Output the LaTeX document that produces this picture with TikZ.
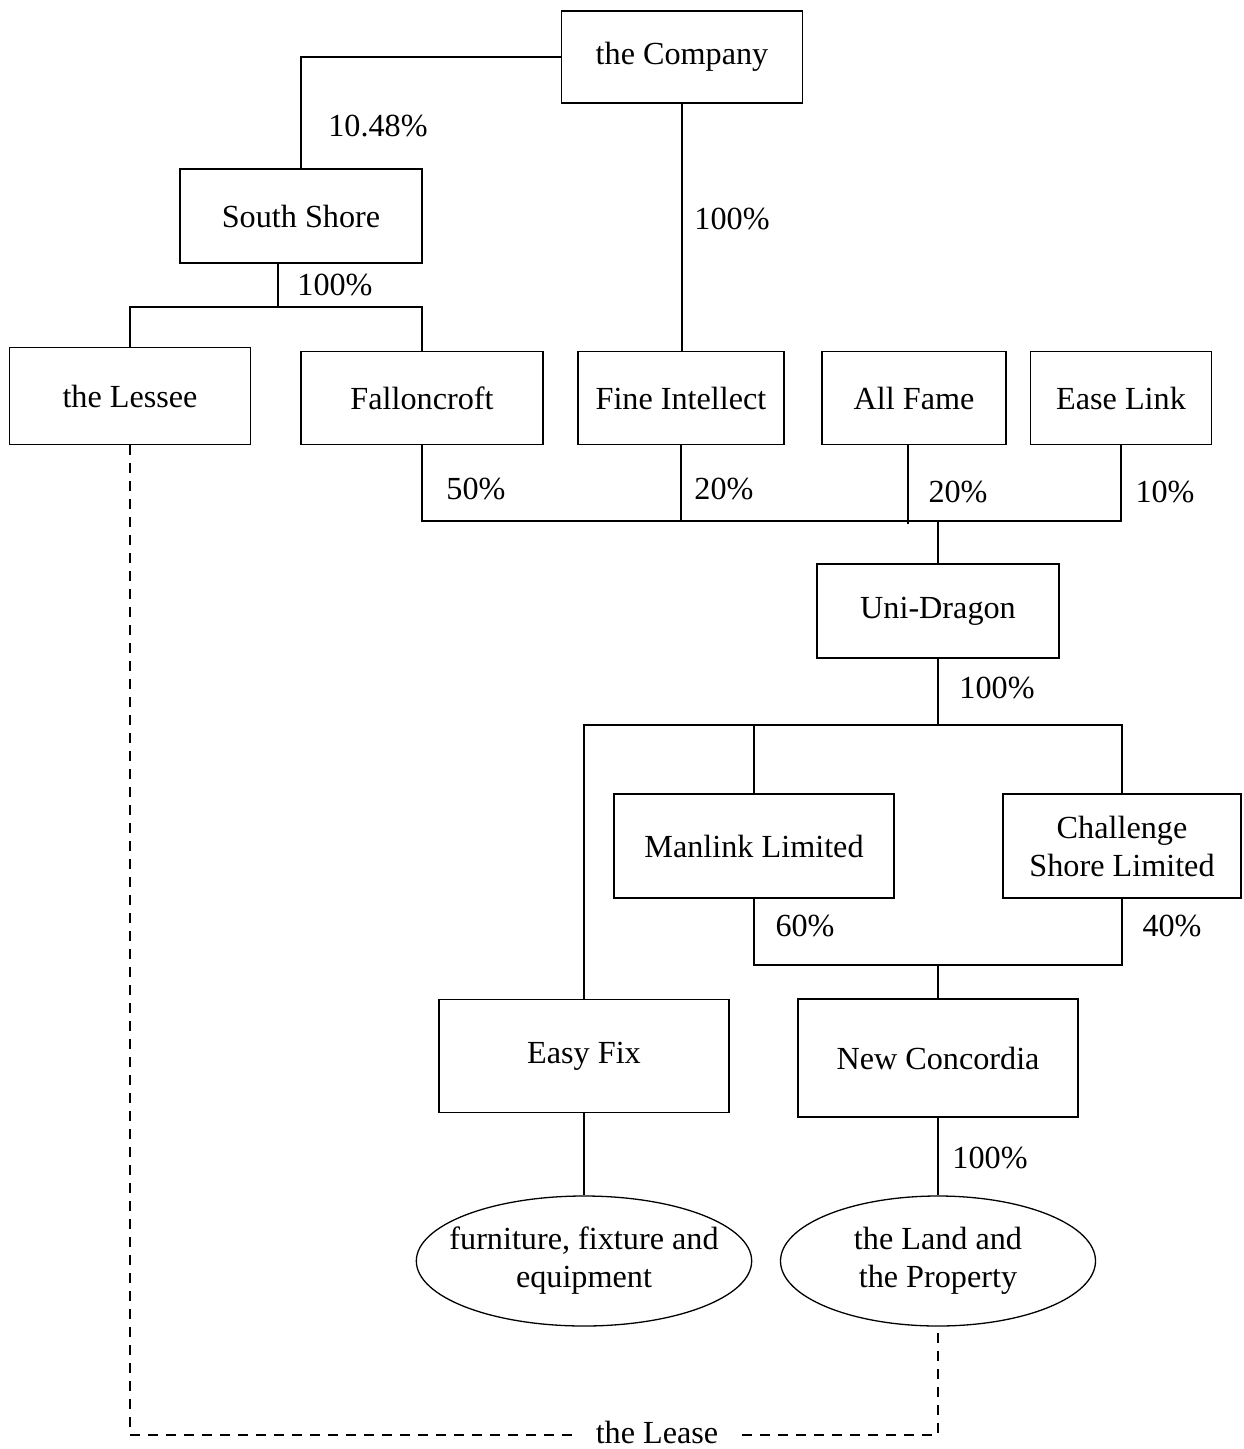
\documentclass[tikz,border=0pt]{standalone}
\usepackage{fontspec}
\setmainfont{Liberation Serif}
\usepackage{tikz}
\usetikzlibrary{shapes.geometric}

\begin{document}
\begin{tikzpicture}[x=0.5pt,y=-0.5pt,line width=0.65pt,
	box/.style={draw,rectangle,align=center,inner sep=0pt},
	oval/.style={draw,ellipse,align=center,inner sep=0pt},
	pct/.style={inner sep=0pt},
	lease/.style={dashed,dash pattern=on 5pt off 4pt}]
	\useasboundingbox (0,0) rectangle (1243,1449);
	\fontsize{16.1}{19}\selectfont

	\node[box,minimum width=120.5pt,minimum height=46pt] (company) at (682,57) {the Company};
	\node[box,minimum width=121pt,minimum height=47pt] (south) at (301,216) {South Shore};
	\node[box,minimum width=120.5pt,minimum height=48.5pt] (lessee) at (130,396) {the Lessee};
	\node[box,minimum width=121pt,minimum height=46.5pt] (fallon) at (422,398) {Falloncroft};
	\node[box,minimum width=103pt,minimum height=46.5pt] (fine) at (681,398) {Fine Intellect};
	\node[box,minimum width=92pt,minimum height=46.5pt] (fame) at (914,398) {All Fame};
	\node[box,minimum width=90.5pt,minimum height=46.5pt] (ease) at (1121,398) {Ease Link};
	\node[box,minimum width=121pt,minimum height=47pt] (uni) at (938,611) {Uni-Dragon};
	\node[box,minimum width=140pt,minimum height=52pt] (manlink) at (754,846) {Manlink Limited};
	\node[box,minimum width=119pt,minimum height=52pt] (challenge) at (1122,846) {Challenge\\Shore Limited};
	\node[box,minimum width=145pt,minimum height=56.5pt] (easy) at (584,1056) {Easy Fix};
	\node[box,minimum width=140pt,minimum height=59pt] (concordia) at (938,1058) {New Concordia};
	\node[oval,inner xsep=-8pt,minimum width=165pt,minimum height=65pt] (furniture) at (584,1261) {furniture, fixture and\\equipment};
	\node[oval,minimum width=157.5pt,minimum height=65pt] (land) at (938,1261) {the Land and\\the Property};

	% junctions
	\coordinate (ssj) at (278,307);
	\coordinate (busa) at (938,521);
	\coordinate (famej) at (908,0);
	\coordinate (busb) at (938,725);
	\coordinate (busc) at (938,965);
	\coordinate (leasej) at (0,1435);

	\draw (company.west) -| (south.north);
	\draw (company.south) -- (company.south |- fine.north);
	\draw (south.south -| ssj) -- (ssj);
	\draw (lessee.north) |- (fallon.north |- ssj) -- (fallon.north);

	\draw (fallon.south) |- (ease.south |- busa) -- (ease.south);
	\draw (fine.south) -- (fine.south |- busa);
	\draw (famej |- fame.south) -- ([yshift=-1.5pt]famej |- busa);
	\draw (busa) -- (uni.north);

	\draw (uni.south) -- (busb);
	\draw (easy.north) |- (challenge.north |- busb) -- (challenge.north);
	\draw (manlink.north) -- (manlink.north |- busb);

	\draw (manlink.south) |- (challenge.south |- busc) -- (challenge.south);
	\draw (busc) -- (concordia.north);

	\draw (easy.south) -- (furniture.north);
	\draw (concordia.south) -- (land.north);

	\draw[lease] (lessee.south) |- (land.south |- leasej) -- (land.south);
	\node[fill=white,inner xsep=11pt,inner ysep=0.5pt] (leasetxt) at (657,1432) {the Lease};

	\node[pct] (p1) at (378,126) {10.48\%};
	\node[pct] (p2) at (732,219) {100\%};
	\node[pct] (p3) at (335,285) {100\%};
	\node[pct] (p4) at (476,489) {50\%};
	\node[pct] (p5) at (724,489) {20\%};
	\node[pct] (p6) at (958,492) {20\%};
	\node[pct] (p7) at (1165,492) {10\%};
	\node[pct] (p8) at (997,688) {100\%};
	\node[pct] (p9) at (805,926) {60\%};
	\node[pct] (p10) at (1172,926) {40\%};
	\node[pct] (p11) at (990,1158) {100\%};
\end{tikzpicture}
\end{document}
